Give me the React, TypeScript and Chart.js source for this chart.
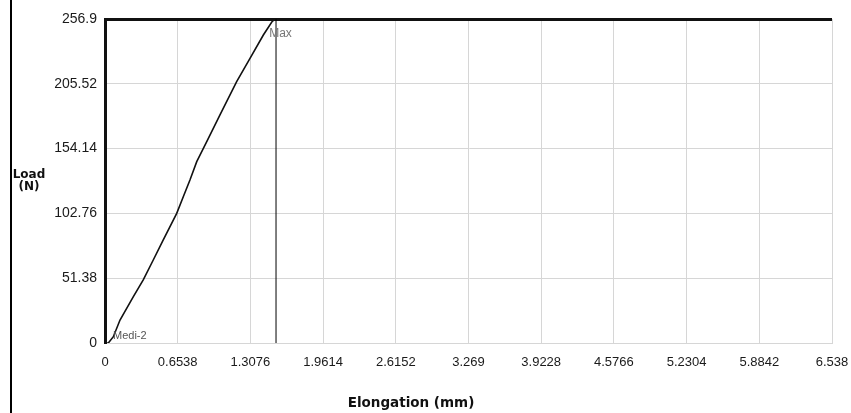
import React, { useEffect, useRef } from "react";
import { Chart, registerables } from "chart.js";

Chart.register(...registerables);

const elongation = [0, 0.03, 0.075, 0.135, 0.255, 0.344, 0.434, 0.524, 0.645, 0.704, 0.764, 0.825, 0.915, 1.034, 1.184, 1.304, 1.424, 1.5, 1.53];
const load = [0, 0, 5, 18.2, 36.7, 50, 65.8, 81.7, 102.8, 116, 129.2, 143.8, 159.6, 180.8, 207.2, 225.7, 244.2, 254.5, 256.9];
const maxElongation = 1.538;
const maxLoad = 256.9;

const xTicks = [0, 0.6538, 1.3076, 1.9614, 2.6152, 3.269, 3.9228, 4.5766, 5.2304, 5.8842, 6.538];
const xTickLabels = ["0", "0.6538", "1.3076", "1.9614", "2.6152", "3.269", "3.9228", "4.5766", "5.2304", "5.8842", "6.538"];
const yTicks = [0, 51.38, 102.76, 154.14, 205.52, 256.9];
const yTickLabels = ["0", "51.38", "102.76", "154.14", "205.52", "256.9"];

const xTitle = "Elongation (mm)";
const yTitleLines = ["Load", "(N)"];
const maxLabel = "Max";
const startLabel = "Medi-2";

const GRID = "#d6d6d6";

export default function App() {
  const ref = useRef<HTMLCanvasElement | null>(null);

  useEffect(() => {
    const canvas = ref.current;
    if (!canvas) return;

    const decor = {
      id: "decor",
      afterDraw(chart: any) {
        const ctx = chart.ctx;
        const xs = chart.scales.x;
        const ys = chart.scales.y;
        ctx.save();
        ctx.strokeStyle = "#000";
        ctx.lineWidth = 2;
        ctx.beginPath();
        ctx.moveTo(11, 0);
        ctx.lineTo(11, 413);
        ctx.stroke();

        ctx.fillStyle = "#777";
        ctx.font = "12px 'Liberation Sans', Arial, sans-serif";
        ctx.textAlign = "left";
        ctx.textBaseline = "top";
        const mx = xs.getPixelForValue(elongation[elongation.length - 1]);
        const my = ys.getPixelForValue(load[load.length - 1]);
        ctx.fillText(maxLabel, mx - 6, my + 9);

        ctx.fillStyle = "#555";
        ctx.font = "11px 'Liberation Sans', Arial, sans-serif";
        ctx.textBaseline = "alphabetic";
        const sx = xs.getPixelForValue(elongation[0]);
        const sy = ys.getPixelForValue(load[0]);
        ctx.fillText(startLabel, sx + 8, sy - 4);

        ctx.fillStyle = "#111";
        ctx.font = "bold 12px 'DejaVu Sans', Verdana, sans-serif";
        ctx.textAlign = "center";
        ctx.textBaseline = "middle";
        ctx.fillText(yTitleLines[0], 29, 175);
        ctx.fillText(yTitleLines[1], 29, 187);

        ctx.font = "bold 13.5px 'DejaVu Sans', Verdana, sans-serif";
        ctx.fillText(xTitle, 411, 403);
        ctx.restore();
      },
    };

    const chart = new Chart(canvas, {
      type: "line",
      data: {
        datasets: [
          {
            data: elongation.map((x, i) => ({ x, y: load[i] })),
            borderColor: "#111",
            borderWidth: 1.6,
            pointRadius: 0,
            tension: 0,
            fill: false,
          },
          {
            data: [
              { x: maxElongation, y: 0 },
              { x: maxElongation, y: maxLoad },
            ],
            borderColor: "#000",
            borderWidth: 1,
            pointRadius: 0,
            fill: false,
          },
        ],
      },
      options: {
        animation: false,
        responsive: false,
        maintainAspectRatio: false,
        layout: { padding: { left: 0, top: 19, right: 19, bottom: 0 } },
        plugins: {
          legend: { display: false },
          tooltip: { enabled: false },
        },
        scales: {
          x: {
            type: "linear",
            min: 0,
            max: 6.538,
            afterBuildTicks: (scale: any) => {
              scale.ticks = xTicks.map((v) => ({ value: v }));
            },
            afterFit: (scale: any) => {
              scale.height = 70;
              scale.paddingLeft = 0;
              scale.paddingRight = 0;
            },
            ticks: {
              autoSkip: false,
              maxRotation: 0,
              padding: 12,
              color: "#1a1a1a",
              font: { family: "'Liberation Sans', Arial, sans-serif", size: 13 },
              callback: (_v: any, i: number) => xTickLabels[i],
            },
            grid: {
              drawTicks: false,
              color: (c: any) => (c.index === 0 ? "rgba(0,0,0,0)" : GRID),
              lineWidth: 1,
            },
            border: { color: GRID, width: 1 },
          },
          y: {
            type: "linear",
            min: 0,
            max: 256.9,
            afterBuildTicks: (scale: any) => {
              scale.ticks = yTicks.map((v) => ({ value: v }));
            },
            afterFit: (scale: any) => {
              scale.width = 105;
              scale.paddingTop = 0;
              scale.paddingBottom = 0;
            },
            ticks: {
              autoSkip: false,
              padding: 8,
              color: "#1a1a1a",
              font: { family: "'Liberation Sans', Arial, sans-serif", size: 14 },
              callback: (_v: any, i: number) => yTickLabels[i],
            },
            grid: {
              drawTicks: false,
              color: (c: any) => (c.tick && c.tick.value === maxLoad ? "#111" : GRID),
              lineWidth: (c: any) => (c.tick && c.tick.value === maxLoad ? 3 : 1),
            },
            border: { color: "#111", width: 3 },
          },
        },
      },
      plugins: [decor],
    } as any);

    return () => chart.destroy();
  }, []);

  return (
    <div style={{ position: "fixed", left: 0, top: 0, width: 851, height: 413, background: "#fff" }}>
      <canvas ref={ref} width={851} height={413} style={{ display: "block" }} />
    </div>
  );
}
